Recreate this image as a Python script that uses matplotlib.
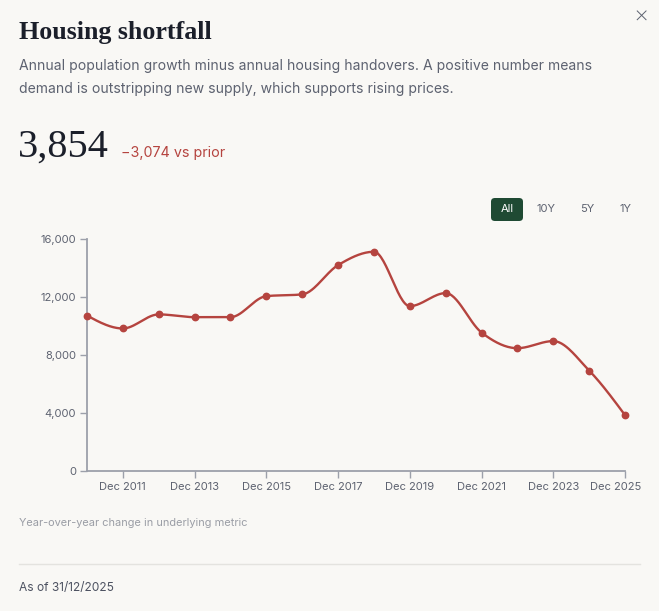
import numpy as np
import matplotlib.pyplot as plt
from matplotlib.patches import FancyBboxPatch
from matplotlib.lines import Line2D
from matplotlib.transforms import ScaledTranslation

# data
years = [2010, 2011, 2012, 2013, 2014, 2015, 2016, 2017,
         2018, 2019, 2020, 2021, 2022, 2023, 2024, 2025]
shortfall = [10720, 9830, 10800, 10610, 10610, 12060, 12180, 14200,
             15120, 11370, 12270, 9550, 8470, 8960, 6928, 3854]
y_ticks = [0, 4000, 8000, 12000, 16000]
x_ticks = [2011, 2013, 2015, 2017, 2019, 2021, 2023, 2025]
ranges = ["All", "10Y", "5Y", "1Y"]

BG = "#f9f8f5"
RED = "#b5443f"
DARK = "#1b1f2a"
GRAY = "#5d6270"
AXIS = "#9ca0aa"


def monotone_x(x, y, n=30):
    # smooth curve like d3.curveMonotoneX
    x = np.asarray(x, float)
    y = np.asarray(y, float)
    h = np.diff(x)
    s = np.diff(y) / h
    t = np.zeros(len(x))
    for i in range(1, len(x) - 1):
        p = (s[i - 1] * h[i] + s[i] * h[i - 1]) / (h[i - 1] + h[i])
        t[i] = (np.sign(s[i - 1]) + np.sign(s[i])) * min(abs(s[i - 1]), abs(s[i]), 0.5 * abs(p))
    t[0] = (3 * s[0] - t[1]) / 2
    t[-1] = (3 * s[-1] - t[-2]) / 2
    xs, ys = [], []
    for i in range(len(x) - 1):
        u = np.linspace(0, 1, n, endpoint=(i == len(x) - 2))
        h00 = 2 * u**3 - 3 * u**2 + 1
        h10 = u**3 - 2 * u**2 + u
        h01 = -2 * u**3 + 3 * u**2
        h11 = u**3 - u**2
        xs.append(x[i] + u * h[i])
        ys.append(h00 * y[i] + h10 * h[i] * t[i] + h01 * y[i + 1] + h11 * h[i] * t[i + 1])
    return np.concatenate(xs), np.concatenate(ys)


W, H = 659, 611
fig = plt.figure(figsize=(W / 100, H / 100), dpi=100, facecolor=BG)
plt.rcParams["font.family"] = ["Inter", "DejaVu Sans"]


def fx(px):
    return px / W


def fy(py):
    return 1 - py / H


# header texts
fig.text(fx(19), fy(33), "Housing shortfall", family="Liberation Serif", weight="bold",
         fontsize=18.7, color=DARK, va="center")
fig.text(fx(19), fy(66), "Annual population growth minus annual housing handovers. A positive number means",
         fontsize=10.1, color=GRAY, va="center")
fig.text(fx(19), fy(89), "demand is outstripping new supply, which supports rising prices.",
         fontsize=10.1, color=GRAY, va="center")
fig.text(fx(18), fy(147), "3,854", family="Liberation Serif", fontsize=29, color=DARK, va="center")
fig.text(fx(121), fy(153), "\u22123,074 vs prior", fontsize=10.3, color=RED, va="center")
fig.text(fx(641), fy(17), "\u00d7", fontsize=17, color=GRAY, ha="center", va="center",
         weight="light")

# range buttons
btn = FancyBboxPatch((fx(491), fy(221)), fx(32), fy(198) - fy(221),
                     boxstyle="round,pad=0,rounding_size=0.006", transform=fig.transFigure,
                     facecolor="#1f4a33", edgecolor="none")
fig.patches.append(btn)
for label, px in zip(ranges, [507, 546, 587, 625]):
    fig.text(fx(px), fy(209.5), label, fontsize=8, ha="center", va="center",
             color="white" if label == "All" else GRAY)

# chart
ax = fig.add_axes([fx(87), fy(471), fx(625) - fx(87), fy(239) - fy(471)])
ax.set_facecolor(BG)
cx, cy = monotone_x(years, shortfall)
ax.plot(cx, cy, color=RED, lw=1.7, solid_capstyle="round", zorder=3)
ax.plot(years, shortfall, "o", color=RED, ms=4.6, zorder=4)
ax.set_xlim(2010, 2025)
ax.set_ylim(0, 16000)
ax.set_yticks(y_ticks)
ax.set_yticklabels([f"{v:,}" for v in y_ticks])
ax.set_xticks(x_ticks)
ax.set_xticklabels([f"Dec {y}" for y in x_ticks])
for side in ["top", "right"]:
    ax.spines[side].set_visible(False)
for side in ["left", "bottom"]:
    ax.spines[side].set_color(AXIS)
    ax.spines[side].set_linewidth(1.3)
ax.tick_params(colors=AXIS, labelcolor=GRAY, labelsize=8, length=5, width=1, pad=3)
for lab in ax.get_xticklabels() + ax.get_yticklabels():
    lab.set_fontfamily(["Inter", "DejaVu Sans"])
# last label is pulled in so it stays inside the card
last = ax.get_xticklabels()[-1]
last.set_transform(last.get_transform() + ScaledTranslation(-9 / 100, 0, fig.dpi_scale_trans))
for art in ax.lines:
    art.set_clip_on(False)

# footer
fig.text(fx(19), fy(523), "Year-over-year change in underlying metric", fontsize=7.9,
         color="#9a9da5", va="center")
fig.add_artist(Line2D([fx(19), fx(640)], [fy(564), fy(564)], color="#e4e3df", lw=1,
                      transform=fig.transFigure))
fig.text(fx(19), fy(588), "As of 31/12/2025", fontsize=8.6, color="#4d5261", va="center")

fig.savefig("out.png", dpi=100, facecolor=BG)
